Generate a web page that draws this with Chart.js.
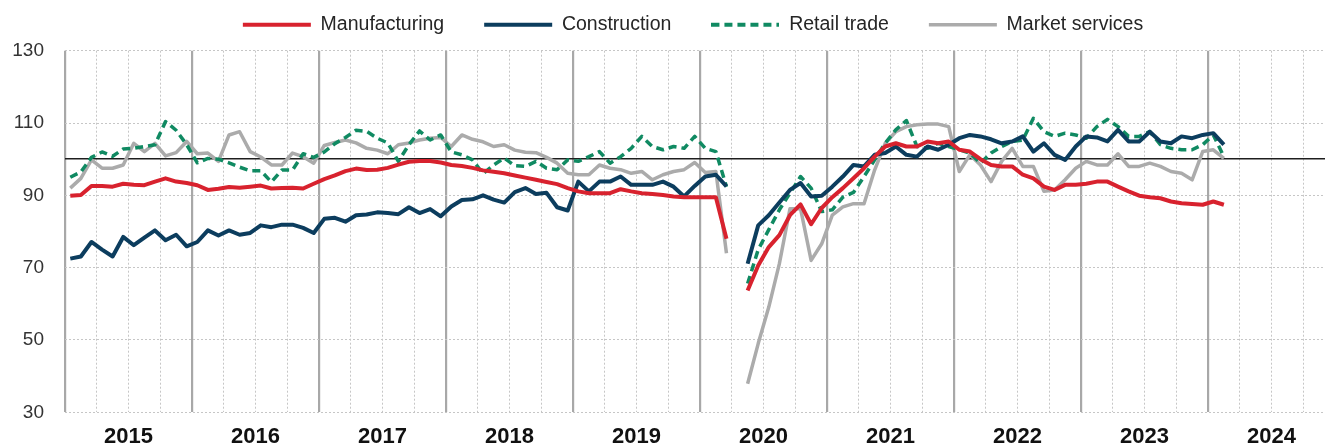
<!DOCTYPE html>
<html>
<head>
<meta charset="utf-8">
<script src="https://cdn.jsdelivr.net/npm/chart.js@4/dist/chart.umd.min.js"></script>
<style>
  html, body { margin: 0; padding: 0; background: #fff; overflow: hidden; }
  #wrap { position: absolute; left: 0; top: 0; width: 1386px; height: 448px; }
</style>
</head>
<body>
<div id="wrap"><canvas id="chart"></canvas></div>
<script>
// Business confidence by sector, monthly Jan 2015 - Feb 2024 (Apr 2020 missing)
const years = ['2015', '2016', '2017', '2018', '2019', '2020', '2021', '2022', '2023', '2024'];
const yTicks = [30, 50, 70, 90, 100, 110, 130];

const manufacturing = [
  89.9, 90.1, 92.6, 92.6, 92.4, 93.2, 92.9, 92.8, 93.8, 94.7, 93.8, 93.4,
  92.8, 91.5, 91.8, 92.3, 92.1, 92.4, 92.7, 91.9, 92.0, 92.1, 91.9, 93.2,
  94.5, 95.5, 96.7, 97.4, 97.0, 97.1, 97.6, 98.5, 99.3, 99.5, 99.5, 99.1,
  98.4, 98.1, 97.6, 96.9, 96.5, 96.1, 95.5, 94.9, 94.3, 93.7, 93.1, 92.0,
  91.1, 90.6, 90.6, 90.6, 91.7, 91.1, 90.6, 90.4, 90.1, 89.7, 89.5, 89.5,
  89.5, 89.5, 78.0, null, 63.7, 70.6, 75.7, 79.0, 84.5, 87.5, 82.0, 86.5,
  89.5, 92.0, 94.7, 97.5, 100.7, 103.5, 104.4, 103.5, 103.5, 104.9, 104.4, 104.9,
  102.6, 102.1, 100.0, 98.4, 98.0, 98.0, 95.7, 94.7, 92.4, 91.5, 92.9, 92.9,
  93.2, 93.8, 93.8, 92.4, 91.1, 89.9, 89.5, 89.2, 88.3, 87.8, 87.6, 87.4,
  88.3, 87.4
];
const construction = [
  72.5, 73.1, 77.1, 75.0, 73.1, 78.5, 76.2, 78.3, 80.3, 77.6, 79.1, 75.9,
  77.1, 80.3, 78.9, 80.3, 79.1, 79.6, 81.7, 81.2, 81.9, 81.9, 81.0, 79.6,
  83.5, 83.8, 82.7, 84.5, 84.7, 85.3, 85.1, 84.8, 86.7, 85.1, 86.2, 84.2,
  86.9, 88.7, 88.9, 90.0, 88.8, 88.0, 90.9, 92.0, 90.4, 90.7, 86.7, 85.8,
  93.8, 91.1, 93.8, 93.8, 95.2, 92.9, 92.9, 92.9, 93.8, 92.4, 89.7, 92.6,
  95.2, 95.7, 92.5, null, 71.1, 81.7, 84.5, 88.0, 91.5, 93.4, 89.7, 89.9,
  92.4, 95.2, 98.4, 98.0, 101.2, 101.7, 103.5, 101.2, 100.7, 103.5, 102.6, 104.0,
  105.8, 106.7, 106.3, 105.5, 104.4, 104.9, 106.3, 102.1, 104.4, 101.2, 99.8, 103.5,
  106.3, 106.0, 104.9, 108.1, 104.9, 104.9, 107.6, 104.9, 104.4, 106.3, 105.8, 106.7,
  107.2, 104.0
];
const retail = [
  95.0, 96.5, 100.5, 102.0, 100.8, 102.8, 103.0, 103.5, 104.0, 110.4, 108.0, 104.0,
  99.0, 100.2, 100.0, 99.0, 97.8, 96.8, 96.8, 93.7, 97.0, 97.0, 101.5, 100.5,
  102.0, 104.3, 106.0, 108.0, 107.7, 105.8, 104.5, 99.4, 104.0, 107.8, 105.3, 106.7,
  102.0, 101.2, 99.8, 96.0, 98.4, 100.3, 98.2, 98.0, 99.4, 97.5, 97.1, 99.8,
  99.4, 100.7, 102.1, 98.9, 100.7, 103.0, 106.3, 103.5, 102.6, 103.5, 103.0, 106.3,
  103.0, 102.1, 92.4, null, 65.6, 75.0, 80.5, 86.0, 90.6, 95.2, 92.0, 85.5,
  86.0, 89.5, 90.8, 95.2, 99.8, 104.4, 108.1, 110.7, 103.5, 103.0, 104.4, 103.5,
  102.6, 101.7, 98.9, 101.7, 103.5, 104.9, 105.3, 111.3, 107.6, 106.3, 107.2, 106.7,
  105.8, 109.0, 111.0, 109.0, 106.3, 106.3, 107.6, 104.0, 103.0, 102.6, 102.6, 104.0,
  106.7, 100.7
];
const services = [
  92.0, 94.7, 99.8, 97.5, 97.5, 98.4, 104.4, 102.1, 104.4, 100.9, 101.8, 104.9,
  101.5, 101.7, 99.4, 106.7, 107.6, 102.1, 100.6, 98.4, 98.4, 101.7, 100.7, 98.9,
  103.8, 104.6, 105.3, 104.5, 103.0, 102.5, 101.5, 104.0, 104.5, 105.3, 105.8, 106.0,
  103.5, 106.7, 105.5, 104.8, 103.5, 104.0, 102.5, 101.9, 101.8, 100.5, 98.9, 96.1,
  95.7, 95.7, 98.4, 97.5, 97.1, 96.1, 96.6, 94.3, 95.7, 96.6, 97.1, 99.1,
  96.3, 96.6, 74.0, null, 37.9, 49.0, 59.1, 71.1, 86.3, 86.3, 72.0, 76.6,
  84.5, 86.8, 87.7, 87.7, 97.0, 104.4, 107.6, 109.0, 109.5, 109.7, 109.7, 109.0,
  96.6, 101.2, 98.4, 93.8, 99.4, 103.0, 98.0, 98.0, 91.1, 91.5, 94.3, 97.5,
  99.4, 98.4, 98.4, 101.5, 98.0, 98.0, 98.9, 98.0, 96.6, 96.1, 94.3, 102.1,
  102.6, 100.2
];

// month i sits in the middle of its slot on a 0..120 month axis
const toPoints = arr => arr.map((v, i) => ({ x: i + 0.5, y: v }));

// legend glyph for the dashed series (point-style legend ignores the dash)
function dashedSample(color) {
  const c = document.createElement('canvas');
  c.width = 68; c.height = 8;
  const g = c.getContext('2d');
  g.strokeStyle = color; g.lineWidth = 4; g.setLineDash([8, 5]);
  g.beginPath(); g.moveTo(0, 4); g.lineTo(68, 4); g.stroke();
  return c;
}

const lineBase = { pointRadius: 0, pointHoverRadius: 0, tension: 0, spanGaps: false, pointStyle: 'line',
                   borderJoinStyle: 'round', borderCapStyle: 'butt', fill: false };

// legend row sits above the plot; height and centring fixed by hand
const legendBox = {
  id: 'legendBox',
  beforeInit(chart) {
    const fit = chart.legend.fit;
    chart.legend.fit = function () { fit.call(this); this.height = 75.7; };
  },
  afterLayout(chart) { chart.legend.left = 51; }
};

new Chart(document.getElementById('chart'), {
  type: 'line',
  data: {
    datasets: [
      Object.assign({}, lineBase, { label: 'Manufacturing', data: toPoints(manufacturing), borderColor: '#d8222e', borderWidth: 4 }),
      Object.assign({}, lineBase, { label: 'Construction', data: toPoints(construction), borderColor: '#0c3d5e', borderWidth: 4 }),
      Object.assign({}, lineBase, { label: 'Retail trade', data: toPoints(retail), borderColor: '#108a62', borderWidth: 3.5,
                                    borderDash: [8, 5], pointStyle: dashedSample('#108a62') }),
      Object.assign({}, lineBase, { label: 'Market services', data: toPoints(services), borderColor: '#ababab', borderWidth: 3.5 })
    ]
  },
  options: {
    responsive: true, maintainAspectRatio: false, animation: false, devicePixelRatio: 1,
    layout: { padding: { top: -25, right: 51, left: 0, bottom: 0 } },
    plugins: {
      tooltip: { enabled: false },
      legend: {
        position: 'top',
        labels: {
          usePointStyle: true, pointStyleWidth: 68, padding: 40,
          color: '#262626', font: { family: 'Liberation Sans, Arial, sans-serif', size: 19.5 }
        }
      }
    },
    scales: {
      x: {
        type: 'linear', min: 0, max: 120,
        afterBuildTicks: s => { s.ticks = []; for (let v = 0; v <= 120; v += 3) s.ticks.push({ value: v }); },
        afterFit: s => { s.height = 35.7; },
        grid: {
          drawTicks: false,
          color: c => (c.tick && c.tick.value % 12 === 0) ? '#a8a8a8' : '#c6c6c6',
          lineWidth: c => (c.tick && c.tick.value % 12 === 0) ? 2.2 : 1
        },
        border: { display: false, dash: c => (c.tick && c.tick.value % 12 === 0) ? [] : [2, 2] },
        ticks: {
          autoSkip: false, maxRotation: 0, padding: 11, color: '#111',
          font: { family: 'Liberation Sans, Arial, sans-serif', size: 22, weight: 'bold' },
          callback: v => v % 12 === 6 ? years[(v - 6) / 12] : ''
        }
      },
      y: {
        min: 30, max: 130,
        afterBuildTicks: s => { s.ticks = yTicks.map(v => ({ value: v })); },
        afterFit: s => { s.width = 65; },
        grid: {
          drawTicks: false,
          color: c => (c.tick && c.tick.value === 100) ? '#1e1e1e' : '#c6c6c6',
          lineWidth: c => (c.tick && c.tick.value === 100) ? 1.4 : 1
        },
        border: { display: false, dash: c => (c.tick && c.tick.value === 100) ? [] : [2, 2] },
        ticks: {
          padding: 21, color: '#333',
          font: { family: 'Liberation Sans, Arial, sans-serif', size: 19 },
          callback: v => v === 100 ? '' : v
        }
      }
    }
  },
  plugins: [legendBox]
});
</script>
</body>
</html>
